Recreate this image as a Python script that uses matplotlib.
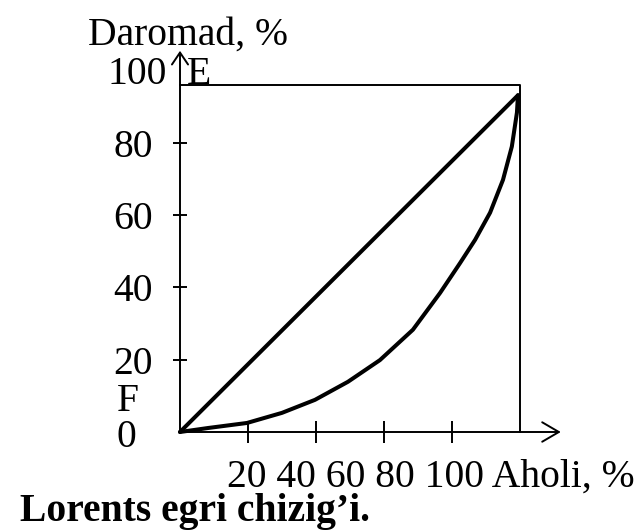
import matplotlib.pyplot as plt

plt.rcParams['font.family'] = ['Liberation Serif', 'DejaVu Serif']

# Lorenz curve (population %, income %)
pop = [0, 8.2, 19.7, 30, 39.7, 49.4, 58.8, 68.5, 76.5, 82.4, 86.8, 91.2, 95, 97.6, 99.1, 99.4]
income = [0, 1.1, 2.5, 5.3, 8.9, 13.9, 19.9, 28.3, 38.5, 46.8, 53.2, 60.7, 69.8, 79, 88.4, 93.2]
# line of absolute equality
eq_x = [0, 99.4]
eq_y = [0, 93.2]
# square frame
box_x = [0, 100, 100]
box_y = [96, 96, 0]

xticks = [20, 40, 60, 80]
yticks = [20, 40, 60, 80]
ylabels = [80, 60, 40, 20]
xlabel_parts = ['20', '40', '60', '80', '100', 'Aholi, %']

fig = plt.figure(figsize=(6.4, 5.3), dpi=100)
ax = fig.add_axes([180 / 640, 98 / 530, 380.8 / 640, 383 / 530])
ax.set_xlim(0, 112)
ax.set_ylim(0, 106)
for s in ax.spines.values():
    s.set_visible(False)

ax.set_xticks(xticks)
ax.set_yticks(yticks)
ax.tick_params(axis='x', direction='inout', length=16.5, width=1.4, labelbottom=False)
ax.tick_params(axis='y', direction='inout', length=9.5, width=1.4, labelleft=False)

# axes with arrows
ax.annotate('', xy=(112, 0), xytext=(0, 0), annotation_clip=False,
            arrowprops=dict(arrowstyle='->,head_length=0.6,head_width=0.35',
                            lw=1.4, color='k', shrinkA=0, shrinkB=0, mutation_scale=20))
ax.annotate('', xy=(0, 105.5), xytext=(0, 0), annotation_clip=False,
            arrowprops=dict(arrowstyle='->,head_length=0.43,head_width=0.29',
                            lw=1.4, color='k', shrinkA=0, shrinkB=0, mutation_scale=20))

ax.plot(box_x, box_y, color='k', lw=1.4, clip_on=False)
ax.plot(eq_x, eq_y, color='k', lw=2.9, solid_capstyle='round', clip_on=False)
ax.plot(pop, income, color='k', lw=2.9, solid_joinstyle='round',
        solid_capstyle='round', clip_on=False)

fs = 28.5
for v in ylabels:
    ax.text(-7.9, v, str(v), ha='right', va='center_baseline', fontsize=fs)
ax.text(-3.8, 100.3, '100', ha='right', va='center_baseline', fontsize=fs)
ax.text(-18.8, -0.3, '0', ha='left', va='center_baseline', fontsize=fs)
ax.text(-18.5, 9.7, 'F', ha='left', va='center_baseline', fontsize=fs)
ax.text(2.1, 100.3, 'E', ha='left', va='center_baseline', fontsize=fs)

fig.text(88 / 640, 1 - 45 / 530, 'Daromad, %', ha='left', va='baseline', fontsize=fs)
fig.text(227 / 640, 1 - 487 / 530, ' '.join(xlabel_parts), ha='left', va='baseline',
         fontsize=fs)
fig.text(20 / 640, 1 - 521 / 530, 'Lorents egri chizig\u2019i.', ha='left',
         va='baseline', fontsize=fs, fontweight='bold')

fig.savefig('out.png', dpi=100)
